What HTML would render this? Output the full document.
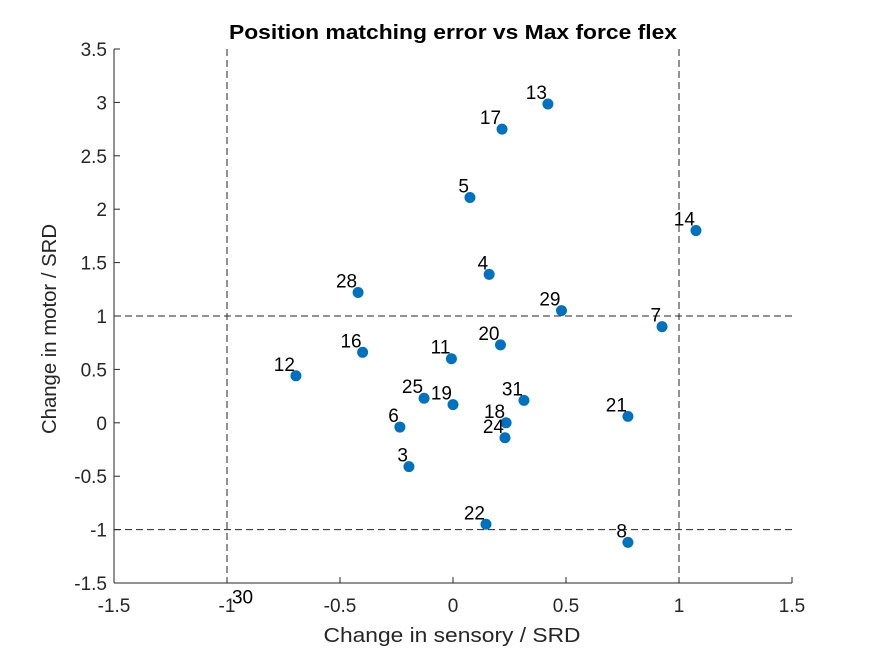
<!DOCTYPE html>
<html><head><meta charset="utf-8"><style>
body{margin:0;background:#fff}
svg text{font-family:"Liberation Sans",sans-serif}
</style></head><body>
<svg id="chart" width="875" height="656" xmlns="http://www.w3.org/2000/svg">
<rect width="875" height="656" fill="#fff"/>
<g id="grid"></g>
<g id="axes"></g>
<g id="pts"></g>
<text x="453" y="39" text-anchor="middle" font-size="20" font-weight="bold" textLength="448" lengthAdjust="spacingAndGlyphs">Position matching error vs Max force flex</text>
<text x="452" y="642" text-anchor="middle" font-size="20" fill="#262626" textLength="257" lengthAdjust="spacingAndGlyphs">Change in sensory / SRD</text>
<text transform="translate(56,329) rotate(-90)" text-anchor="middle" font-size="20" fill="#262626" textLength="210" lengthAdjust="spacingAndGlyphs">Change in motor / SRD</text>
</svg>
<script>
const labels=["13","17","5","14","4","28","29","7","16","11","20","12","25","19","31","21","18","6","24","3","22","8","30"];
const xs=[0.42,0.217,0.075,1.075,0.16,-0.42,0.48,0.925,-0.40,-0.007,0.21,-0.695,-0.128,0,0.314,0.774,0.235,-0.235,0.23,-0.195,0.146,0.774,-0.88];
const ys=[2.985,2.75,2.11,1.80,1.39,1.22,1.05,0.90,0.66,0.60,0.73,0.44,0.23,0.17,0.21,0.06,0,-0.04,-0.14,-0.41,-0.95,-1.12,-1.74];
const xTicks=[-1.5,-1,-0.5,0,0.5,1,1.5];
const yTicks=[-1.5,-1,-0.5,0,0.5,1,1.5,2,2.5,3,3.5];
const X=v=>114+(v+1.5)*226, Y=v=>583-(v+1.5)*106.8;
const NS="http://www.w3.org/2000/svg";
function mk(t,a,p){const e=document.createElementNS(NS,t);for(const k in a)e.setAttribute(k,a[k]);p.appendChild(e);return e;}
const g=document.getElementById('grid'),ax=document.getElementById('axes'),pt=document.getElementById('pts');
[-1,1].forEach(v=>{const l=mk('line',{x1:X(v),x2:X(v),y1:Y(3.5),y2:Y(-1.5),stroke:'#262626','stroke-dasharray':'7,4','stroke-width':1},g);


const h=mk('line',{x1:X(-1.5),x2:X(1.5),y1:Y(v),y2:Y(v),stroke:'#262626','stroke-dasharray':'7,4','stroke-width':1},g);

});
const xa=mk('line',{x1:X(-1.5),x2:X(1.5),y1:Y(-1.5),y2:Y(-1.5),stroke:'#262626'},ax);


const ya=mk('line',{x1:X(-1.5),x2:X(-1.5),y1:Y(-1.5),y2:Y(3.5),stroke:'#262626'},ax);


xTicks.forEach(v=>{mk('line',{x1:X(v),x2:X(v),y1:Y(-1.5),y2:Y(-1.5)-6,stroke:'#262626'},ax);
const t=mk('text',{x:X(v),y:612,'text-anchor':'middle','font-size':19,fill:'#262626'},ax);t.textContent=String(v);

});
yTicks.forEach(v=>{mk('line',{x1:X(-1.5),x2:X(-1.5)+6,y1:Y(v),y2:Y(v),stroke:'#262626'},ax);
const t=mk('text',{x:107,y:Y(v)+7,'text-anchor':'end','font-size':19,fill:'#262626'},ax);t.textContent=String(v);

});
labels.forEach((lb,i)=>{const cx=X(xs[i]),cy=Y(ys[i]);
if(ys[i]>=-1.5){const c=mk('circle',{cx:cx,cy:cy,r:5.5,fill:'#0072BD'},pt);

}
const t=mk('text',{x:cx-1,y:cy-5,'text-anchor':'end','font-size':19,fill:'#000'},pt);t.textContent=lb;

});
</script>
</body></html>
